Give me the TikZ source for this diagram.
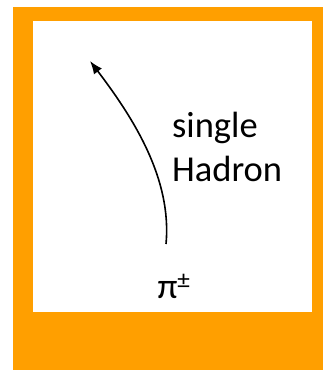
\documentclass[tikz,border=0pt]{standalone}
\usepackage{fontspec}
\setmainfont{Carlito}
\usetikzlibrary{arrows.meta}
\definecolor{FrameOrange}{HTML}{FF9F00}

\begin{document}
\begin{tikzpicture}[x=1pt,y=-1pt,>=Latex]
        \useasboundingbox (0,0) rectangle (323,370);
        \fill[FrameOrange] (13,7) rectangle (323,370);
        \fill[white] (33,21) rectangle (312,312);
        \node[anchor=north west, inner sep=0pt, align=left, font=\fontsize{36.5}{44}\selectfont] (label) at (172,112) {single\\Hadron};
        \node[anchor=base, inner sep=0pt, font=\fontsize{36}{44}\selectfont] (pion) at (174,298) {π\textsuperscript{±}};
        \coordinate (start) at (166,244);
        \coordinate (tip) at (90,61);
        \draw[->, line width=1.6pt, >={Latex[length=13pt,width=10pt]}] (start) .. controls (172,180) and (135,120) .. (tip);
      \end{tikzpicture}
\end{document}
